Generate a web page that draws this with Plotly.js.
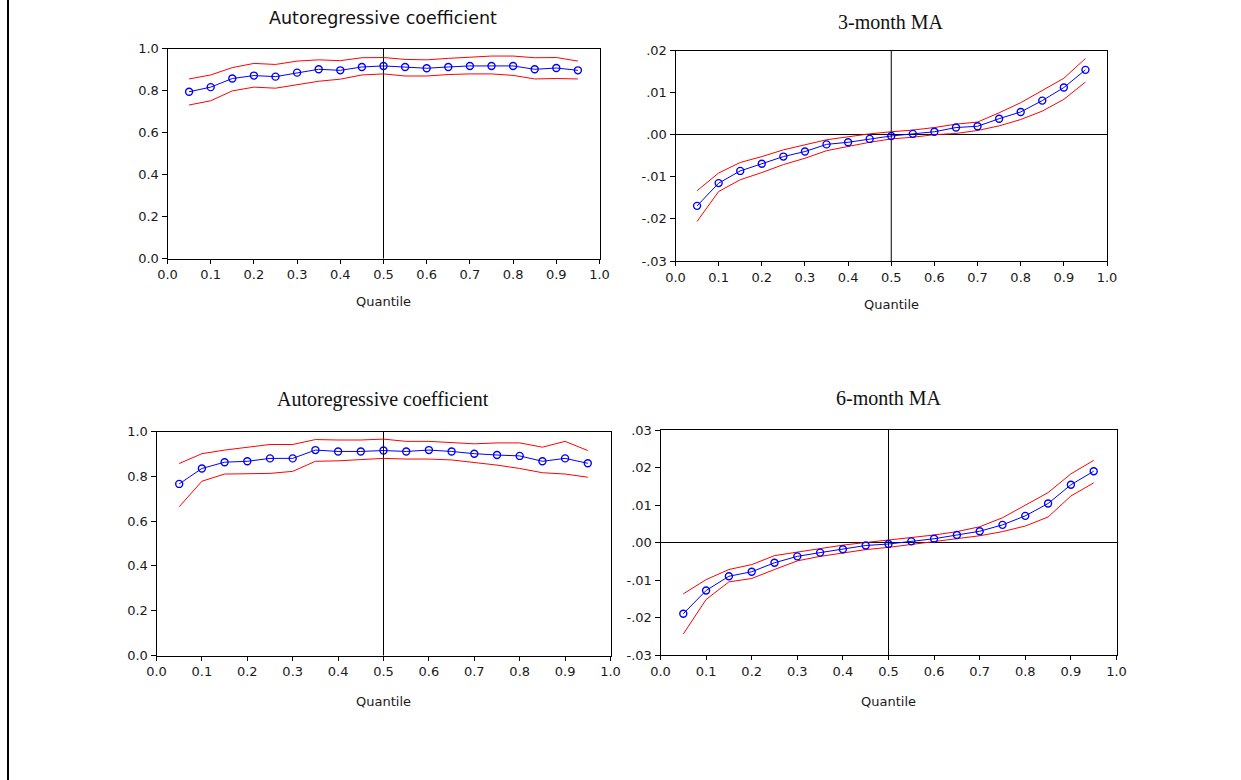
<!DOCTYPE html>
<html>
<head>
<meta charset="utf-8">
<script src="https://cdn.plot.ly/plotly-3.0.1.min.js"></script>
<style>
html,body{margin:0;padding:0;background:#fff;}
#chart{width:1241px;height:780px;}
</style>
</head>
<body>
<div id="chart"></div>
<script>
// ---- data ----
const quantiles = [0.05,0.10,0.15,0.20,0.25,0.30,0.35,0.40,0.45,0.50,0.55,0.60,0.65,0.70,0.75,0.80,0.85,0.90,0.95];

// Panel 1: Autoregressive coefficient (3-month model)
const ar3_coef  = [0.794,0.816,0.857,0.871,0.866,0.885,0.901,0.896,0.912,0.917,0.912,0.906,0.912,0.917,0.917,0.917,0.901,0.907,0.896];
const ar3_upper = [0.855,0.874,0.909,0.929,0.924,0.940,0.946,0.942,0.956,0.957,0.948,0.946,0.953,0.957,0.964,0.964,0.956,0.957,0.940];
const ar3_lower = [0.731,0.751,0.798,0.816,0.811,0.827,0.844,0.854,0.874,0.879,0.869,0.869,0.876,0.879,0.879,0.872,0.855,0.857,0.855];

// Panel 2: 3-month MA
const ma3_coef  = [-0.0169,-0.0115,-0.0086,-0.0069,-0.0052,-0.0040,-0.0023,-0.0018,-0.0010,-0.0003,0.0002,0.0007,0.0017,0.0020,0.0038,0.0054,0.0081,0.0112,0.0154];
const ma3_upper = [-0.0133,-0.0091,-0.0066,-0.0052,-0.0036,-0.0024,-0.0012,-0.0005,0.0002,0.0007,0.0011,0.0017,0.0025,0.0030,0.0052,0.0076,0.0106,0.0134,0.0181];
const ma3_lower = [-0.0206,-0.0135,-0.0107,-0.0090,-0.0071,-0.0056,-0.0038,-0.0028,-0.0018,-0.0010,-0.0006,0.0000,0.0003,0.0010,0.0021,0.0036,0.0056,0.0084,0.0125];

// Panel 3: Autoregressive coefficient (6-month model)
const ar6_coef  = [0.766,0.835,0.863,0.867,0.880,0.880,0.917,0.911,0.911,0.915,0.911,0.917,0.911,0.901,0.895,0.891,0.867,0.880,0.858];
const ar6_upper = [0.857,0.901,0.917,0.931,0.942,0.942,0.964,0.962,0.962,0.966,0.956,0.956,0.952,0.945,0.949,0.949,0.930,0.956,0.915];
const ar6_lower = [0.664,0.778,0.810,0.813,0.813,0.822,0.867,0.869,0.874,0.880,0.877,0.877,0.873,0.863,0.850,0.835,0.816,0.810,0.796];

// Panel 4: 6-month MA
const ma6_coef  = [-0.0190,-0.0128,-0.0090,-0.0078,-0.0054,-0.0037,-0.0027,-0.0018,-0.0008,-0.0004,0.0003,0.0010,0.0020,0.0030,0.0047,0.0071,0.0104,0.0154,0.0190];
const ma6_upper = [-0.0137,-0.0099,-0.0072,-0.0059,-0.0035,-0.0025,-0.0015,-0.0007,0.0000,0.0006,0.0013,0.0020,0.0029,0.0042,0.0066,0.0100,0.0133,0.0183,0.0219];
const ma6_lower = [-0.0244,-0.0152,-0.0105,-0.0096,-0.0072,-0.0049,-0.0037,-0.0028,-0.0019,-0.0013,-0.0005,0.0001,0.0009,0.0018,0.0029,0.0044,0.0068,0.0124,0.0159];

const xTickVals = [0,0.1,0.2,0.3,0.4,0.5,0.6,0.7,0.8,0.9,1.0];
const xTickText = ["0.0","0.1","0.2","0.3","0.4","0.5","0.6","0.7","0.8","0.9","1.0"];
const arTickVals = [0,0.2,0.4,0.6,0.8,1.0];
const arTickText = ["0.0","0.2","0.4","0.6","0.8","1.0"];
const ma3TickVals = [-0.03,-0.02,-0.01,0,0.01,0.02];
const ma3TickText = ["-.03","-.02","-.01",".00",".01",".02"];
const ma6TickVals = [-0.03,-0.02,-0.01,0,0.01,0.02,0.03];
const ma6TickText = ["-.03","-.02","-.01",".00",".01",".02",".03"];

const titles = ["Autoregressive coefficient","3-month MA","Autoregressive coefficient","6-month MA"];
const xTitle = "Quantile";

// ---- figure ----
const W = 1241, H = 780;
const px = v => v / W;
const py = v => 1 - v / H;

const BLUE = "#0000ff", RED = "#ff0000";
const tickFont = {family: "DejaVu Sans, Verdana, sans-serif", size: 13, color: "#1a1a1a"};

function panelTraces(coef, up, lo, xa, ya) {
  return [
    {x: quantiles, y: up, xaxis: xa, yaxis: ya, mode: "lines", line: {color: RED, width: 1}, hoverinfo: "skip"},
    {x: quantiles, y: lo, xaxis: xa, yaxis: ya, mode: "lines", line: {color: RED, width: 1}, hoverinfo: "skip"},
    {x: quantiles, y: coef, xaxis: xa, yaxis: ya, mode: "lines+markers",
     line: {color: BLUE, width: 1},
     marker: {symbol: "circle-open", size: 7, color: BLUE, line: {width: 1.4, color: BLUE}}}
  ];
}

const data = [].concat(
  panelTraces(ar3_coef, ar3_upper, ar3_lower, "x", "y"),
  panelTraces(ma3_coef, ma3_upper, ma3_lower, "x2", "y2"),
  panelTraces(ar6_coef, ar6_upper, ar6_lower, "x3", "y3"),
  panelTraces(ma6_coef, ma6_upper, ma6_lower, "x4", "y4")
);

function xaxis(d0, d1, anchor) {
  return {domain: [px(d0), px(d1)], anchor: anchor, range: [0, 1],
    tickmode: "array", tickvals: xTickVals, ticktext: xTickText,
    ticks: "outside", ticklen: 4, tickwidth: 1, tickcolor: "#000",
    showline: true, linecolor: "#000", linewidth: 1, mirror: true,
    showgrid: false, zeroline: false, tickfont: tickFont, fixedrange: true};
}
function yaxis(d0, d1, anchor, range, tv, tt, zero) {
  return {domain: [py(d1), py(d0)], anchor: anchor, range: range,
    tickmode: "array", tickvals: tv, ticktext: tt,
    ticks: "outside", ticklen: 5, tickwidth: 1, tickcolor: "#000",
    showline: true, linecolor: "#000", linewidth: 1, mirror: true,
    showgrid: false, zeroline: zero, zerolinecolor: "#000", zerolinewidth: 1,
    tickfont: tickFont, fixedrange: true};
}

function vline(xa, ya) {
  return {type: "line", xref: xa, yref: ya + " domain", x0: 0.5, x1: 0.5, y0: 0, y1: 1,
          line: {color: "#000", width: 1}, layer: "below"};
}

const sansTitle = {family: "DejaVu Sans, Arial, sans-serif", size: 17.5, color: "#111"};
const serifTitle = {family: "Liberation Serif, Times New Roman, serif", size: 20, color: "#111"};
const qFont = {family: "DejaVu Sans, Verdana, sans-serif", size: 13, color: "#1a1a1a"};

const layout = {
  width: W, height: H,
  margin: {l: 0, r: 0, t: 0, b: 0},
  paper_bgcolor: "#fff", plot_bgcolor: "#fff",
  showlegend: false,
  xaxis:  xaxis(167.5, 599.5, "y"),
  yaxis:  yaxis(48.5, 258.5, "x", [0, 1], arTickVals, arTickText, false),
  xaxis2: xaxis(675.5, 1107, "y2"),
  yaxis2: yaxis(50.5, 261, "x2", [-0.03, 0.02], ma3TickVals, ma3TickText, true),
  xaxis3: xaxis(156.5, 610.5, "y3"),
  yaxis3: yaxis(431.5, 655.5, "x3", [0, 1], arTickVals, arTickText, false),
  xaxis4: xaxis(660.5, 1116.5, "y4"),
  yaxis4: yaxis(430, 655, "x4", [-0.03, 0.03], ma6TickVals, ma6TickText, true),
  shapes: [
    vline("x", "y"), vline("x2", "y2"), vline("x3", "y3"), vline("x4", "y4"),
    {type: "line", xref: "paper", yref: "paper", x0: px(8), x1: px(8), y0: 0, y1: 1,
     line: {color: "#000", width: 2}}
  ],
  annotations: [
    {text: titles[0], xref: "paper", yref: "paper", x: px(383), y: py(18), showarrow: false, font: sansTitle, xanchor: "center", yanchor: "middle"},
    {text: titles[1], xref: "paper", yref: "paper", x: px(891), y: py(22), showarrow: false, font: serifTitle, xanchor: "center", yanchor: "middle"},
    {text: titles[2], xref: "paper", yref: "paper", x: px(383), y: py(400), showarrow: false, font: serifTitle, xanchor: "center", yanchor: "middle"},
    {text: titles[3], xref: "paper", yref: "paper", x: px(889), y: py(398), showarrow: false, font: serifTitle, xanchor: "center", yanchor: "middle"},
    {text: xTitle, xref: "paper", yref: "paper", x: px(383), y: py(302), showarrow: false, font: qFont, xanchor: "center", yanchor: "middle"},
    {text: xTitle, xref: "paper", yref: "paper", x: px(891), y: py(305), showarrow: false, font: qFont, xanchor: "center", yanchor: "middle"},
    {text: xTitle, xref: "paper", yref: "paper", x: px(383), y: py(701), showarrow: false, font: qFont, xanchor: "center", yanchor: "middle"},
    {text: xTitle, xref: "paper", yref: "paper", x: px(888), y: py(701), showarrow: false, font: qFont, xanchor: "center", yanchor: "middle"}
  ]
};

Plotly.newPlot("chart", data, layout, {displayModeBar: false, staticPlot: true});
</script>
</body>
</html>
